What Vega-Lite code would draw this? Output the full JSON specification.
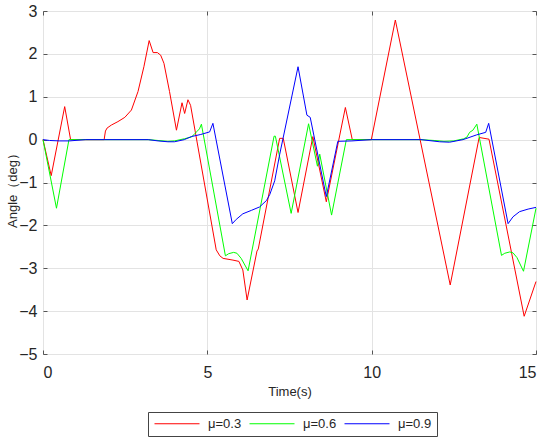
{
  "$schema": "https://vega.github.io/schema/vega-lite/v6.json",
  "width": 493,
  "height": 343,
  "autosize": "none",
  "padding": {"left": 43, "top": 11, "right": 14, "bottom": 85},
  "background": "white",
  "config": {
    "font": "Liberation Sans",
    "view": {"stroke": "#7f7f7f", "strokeWidth": 1},
    "axis": {
      "domain": false,
      "grid": true,
      "gridColor": "#e3e3e3",
      "gridWidth": 1,
      "tickColor": "#555555",
      "tickSize": -4,
      "labelColor": "#262626",
      "labelFontSize": 16,
      "labelFont": "Liberation Sans",
      "titleColor": "#262626",
      "titleFontSize": 13,
      "titleFontWeight": "normal",
      "titleFont": "Liberation Sans"
    }
  },
  "data": {
    "values": [
      {"t": 0, "v": 0, "mu": "μ=0.3"},
      {"t": 0.25, "v": -0.84, "mu": "μ=0.3"},
      {"t": 0.66, "v": 0.77, "mu": "μ=0.3"},
      {"t": 0.84, "v": 0, "mu": "μ=0.3"},
      {"t": 1.86, "v": 0, "mu": "μ=0.3"},
      {"t": 1.9, "v": 0.2, "mu": "μ=0.3"},
      {"t": 1.95, "v": 0.27, "mu": "μ=0.3"},
      {"t": 2.08, "v": 0.34, "mu": "μ=0.3"},
      {"t": 2.28, "v": 0.42, "mu": "μ=0.3"},
      {"t": 2.49, "v": 0.52, "mu": "μ=0.3"},
      {"t": 2.69, "v": 0.69, "mu": "μ=0.3"},
      {"t": 2.89, "v": 1.12, "mu": "μ=0.3"},
      {"t": 3.07, "v": 1.7, "mu": "μ=0.3"},
      {"t": 3.23, "v": 2.31, "mu": "μ=0.3"},
      {"t": 3.35, "v": 2.03, "mu": "μ=0.3"},
      {"t": 3.48, "v": 2.03, "mu": "μ=0.3"},
      {"t": 3.58, "v": 1.97, "mu": "μ=0.3"},
      {"t": 3.68, "v": 1.78, "mu": "μ=0.3"},
      {"t": 3.85, "v": 1.12, "mu": "μ=0.3"},
      {"t": 4.06, "v": 0.22, "mu": "μ=0.3"},
      {"t": 4.23, "v": 0.86, "mu": "μ=0.3"},
      {"t": 4.31, "v": 0.61, "mu": "μ=0.3"},
      {"t": 4.41, "v": 0.93, "mu": "μ=0.3"},
      {"t": 4.49, "v": 0.8, "mu": "μ=0.3"},
      {"t": 5.27, "v": -2.57, "mu": "μ=0.3"},
      {"t": 5.38, "v": -2.71, "mu": "μ=0.3"},
      {"t": 5.48, "v": -2.77, "mu": "μ=0.3"},
      {"t": 5.78, "v": -2.81, "mu": "μ=0.3"},
      {"t": 5.96, "v": -2.84, "mu": "μ=0.3"},
      {"t": 6.08, "v": -3.04, "mu": "μ=0.3"},
      {"t": 6.21, "v": -3.74, "mu": "μ=0.3"},
      {"t": 6.51, "v": -2.6, "mu": "μ=0.3"},
      {"t": 6.55, "v": -2.55, "mu": "μ=0.3"},
      {"t": 7.2, "v": 0.03, "mu": "μ=0.3"},
      {"t": 7.31, "v": 0.03, "mu": "μ=0.3"},
      {"t": 7.76, "v": -1.7, "mu": "μ=0.3"},
      {"t": 8.21, "v": 0.07, "mu": "μ=0.3"},
      {"t": 8.62, "v": -1.45, "mu": "μ=0.3"},
      {"t": 9.2, "v": 0.75, "mu": "μ=0.3"},
      {"t": 9.41, "v": 0, "mu": "μ=0.3"},
      {"t": 9.99, "v": 0, "mu": "μ=0.3"},
      {"t": 10.72, "v": 2.79, "mu": "μ=0.3"},
      {"t": 12.39, "v": -3.39, "mu": "μ=0.3"},
      {"t": 13.27, "v": 0.05, "mu": "μ=0.3"},
      {"t": 13.57, "v": 0.01, "mu": "μ=0.3"},
      {"t": 14.64, "v": -4.12, "mu": "μ=0.3"},
      {"t": 15, "v": -3.31, "mu": "μ=0.3"},

      {"t": 0, "v": 0, "mu": "μ=0.6"},
      {"t": 0.41, "v": -1.6, "mu": "μ=0.6"},
      {"t": 0.79, "v": 0, "mu": "μ=0.6"},
      {"t": 1.5, "v": 0, "mu": "μ=0.6"},
      {"t": 3.2, "v": 0, "mu": "μ=0.6"},
      {"t": 3.5, "v": -0.02, "mu": "μ=0.6"},
      {"t": 3.8, "v": -0.04, "mu": "μ=0.6"},
      {"t": 4.0, "v": -0.03, "mu": "μ=0.6"},
      {"t": 4.3, "v": 0.02, "mu": "μ=0.6"},
      {"t": 4.51, "v": 0.06, "mu": "μ=0.6"},
      {"t": 4.6, "v": 0.12, "mu": "μ=0.6"},
      {"t": 4.67, "v": 0.18, "mu": "μ=0.6"},
      {"t": 4.76, "v": 0.25, "mu": "μ=0.6"},
      {"t": 4.82, "v": 0.36, "mu": "μ=0.6"},
      {"t": 5.55, "v": -2.71, "mu": "μ=0.6"},
      {"t": 5.65, "v": -2.66, "mu": "μ=0.6"},
      {"t": 5.8, "v": -2.63, "mu": "μ=0.6"},
      {"t": 5.9, "v": -2.65, "mu": "μ=0.6"},
      {"t": 6.03, "v": -2.77, "mu": "μ=0.6"},
      {"t": 6.24, "v": -3.06, "mu": "μ=0.6"},
      {"t": 7.03, "v": 0.08, "mu": "μ=0.6"},
      {"t": 7.07, "v": 0.08, "mu": "μ=0.6"},
      {"t": 7.55, "v": -1.72, "mu": "μ=0.6"},
      {"t": 8.08, "v": 0.37, "mu": "μ=0.6"},
      {"t": 8.35, "v": -0.62, "mu": "μ=0.6"},
      {"t": 8.42, "v": -0.34, "mu": "μ=0.6"},
      {"t": 8.78, "v": -1.76, "mu": "μ=0.6"},
      {"t": 9.23, "v": 0, "mu": "μ=0.6"},
      {"t": 11.5, "v": 0, "mu": "μ=0.6"},
      {"t": 11.9, "v": -0.02, "mu": "μ=0.6"},
      {"t": 12.2, "v": -0.04, "mu": "μ=0.6"},
      {"t": 12.5, "v": -0.03, "mu": "μ=0.6"},
      {"t": 12.8, "v": 0.02, "mu": "μ=0.6"},
      {"t": 12.9, "v": 0.06, "mu": "μ=0.6"},
      {"t": 12.98, "v": 0.17, "mu": "μ=0.6"},
      {"t": 13.08, "v": 0.22, "mu": "μ=0.6"},
      {"t": 13.2, "v": 0.36, "mu": "μ=0.6"},
      {"t": 13.95, "v": -2.7, "mu": "μ=0.6"},
      {"t": 14.05, "v": -2.65, "mu": "μ=0.6"},
      {"t": 14.2, "v": -2.62, "mu": "μ=0.6"},
      {"t": 14.3, "v": -2.64, "mu": "μ=0.6"},
      {"t": 14.42, "v": -2.75, "mu": "μ=0.6"},
      {"t": 14.62, "v": -3.07, "mu": "μ=0.6"},
      {"t": 15, "v": -1.6, "mu": "μ=0.6"},

      {"t": 0, "v": 0, "mu": "μ=0.9"},
      {"t": 0.2, "v": -0.02, "mu": "μ=0.9"},
      {"t": 0.5, "v": -0.03, "mu": "μ=0.9"},
      {"t": 0.8, "v": -0.03, "mu": "μ=0.9"},
      {"t": 1.3, "v": 0, "mu": "μ=0.9"},
      {"t": 3.2, "v": 0, "mu": "μ=0.9"},
      {"t": 3.5, "v": -0.03, "mu": "μ=0.9"},
      {"t": 3.8, "v": -0.05, "mu": "μ=0.9"},
      {"t": 4.0, "v": -0.05, "mu": "μ=0.9"},
      {"t": 4.3, "v": 0, "mu": "μ=0.9"},
      {"t": 4.51, "v": 0.07, "mu": "μ=0.9"},
      {"t": 4.8, "v": 0.12, "mu": "μ=0.9"},
      {"t": 5.07, "v": 0.18, "mu": "μ=0.9"},
      {"t": 5.17, "v": 0.38, "mu": "μ=0.9"},
      {"t": 5.76, "v": -1.96, "mu": "μ=0.9"},
      {"t": 5.88, "v": -1.86, "mu": "μ=0.9"},
      {"t": 6.08, "v": -1.73, "mu": "μ=0.9"},
      {"t": 6.34, "v": -1.65, "mu": "μ=0.9"},
      {"t": 6.59, "v": -1.57, "mu": "μ=0.9"},
      {"t": 6.8, "v": -1.42, "mu": "μ=0.9"},
      {"t": 6.9, "v": -1.28, "mu": "μ=0.9"},
      {"t": 7.05, "v": -0.96, "mu": "μ=0.9"},
      {"t": 7.2, "v": -0.35, "mu": "μ=0.9"},
      {"t": 7.76, "v": 1.7, "mu": "μ=0.9"},
      {"t": 8.03, "v": 0.57, "mu": "μ=0.9"},
      {"t": 8.13, "v": 0.52, "mu": "μ=0.9"},
      {"t": 8.62, "v": -1.33, "mu": "μ=0.9"},
      {"t": 8.97, "v": -0.04, "mu": "μ=0.9"},
      {"t": 9.4, "v": -0.03, "mu": "μ=0.9"},
      {"t": 10, "v": 0, "mu": "μ=0.9"},
      {"t": 11.5, "v": 0, "mu": "μ=0.9"},
      {"t": 12.07, "v": -0.05, "mu": "μ=0.9"},
      {"t": 12.37, "v": -0.06, "mu": "μ=0.9"},
      {"t": 12.78, "v": 0, "mu": "μ=0.9"},
      {"t": 13.19, "v": 0.11, "mu": "μ=0.9"},
      {"t": 13.47, "v": 0.17, "mu": "μ=0.9"},
      {"t": 13.56, "v": 0.38, "mu": "μ=0.9"},
      {"t": 14.15, "v": -1.96, "mu": "μ=0.9"},
      {"t": 14.3, "v": -1.8, "mu": "μ=0.9"},
      {"t": 14.5, "v": -1.68, "mu": "μ=0.9"},
      {"t": 14.76, "v": -1.62, "mu": "μ=0.9"},
      {"t": 15, "v": -1.58, "mu": "μ=0.9"}
    ]
  },
  "layer": [
    {
      "mark": {"type": "line", "strokeWidth": 1, "interpolate": "linear"},
      "encoding": {
        "x": {
          "field": "t",
          "type": "quantitative",
          "scale": {"domain": [0, 15], "nice": false, "zero": false},
          "axis": {
            "values": [0, 5, 10, 15],
            "title": "Time(s)",
            "labelPadding": 14,
            "titleBaseline": "middle",
            "titleY": 37
          }
        },
        "y": {
          "field": "v",
          "type": "quantitative",
          "scale": {"domain": [-5, 3], "nice": false, "zero": false},
          "axis": {
            "values": [-5, -4, -3, -2, -1, 0, 1, 2, 3],
            "title": "Angle（deg）",
            "labelPadding": 10,
            "titleBaseline": "middle",
            "titleX": -31,
            "titleY": 176
          }
        },
        "color": {
          "field": "mu",
          "type": "nominal",
          "scale": {
            "domain": ["μ=0.3", "μ=0.6", "μ=0.9"],
            "range": ["#ff0000", "#00ff00", "#0000ff"]
          },
          "legend": {
            "title": null,
            "orient": "none",
            "legendX": 105,
            "legendY": 401,
            "direction": "horizontal",
            "symbolType": "M-1,0L8,0",
            "symbolSize": 100,
            "symbolStrokeWidth": 1,
            "labelFontSize": 13,
            "labelColor": "#262626",
            "labelOffset": 42,
            "columnPadding": 5,
            "padding": 5,
            "strokeColor": "#444444",
            "fillColor": "white"
          }
        }
      }
    },
    {
      "mark": {"type": "point", "opacity": 0},
      "encoding": {
        "x": {
          "field": "t",
          "type": "quantitative",
          "scale": {"domain": [0, 15], "nice": false, "zero": false},
          "axis": {"orient": "top", "values": [0, 5, 10, 15], "labels": false, "grid": false, "title": null}
        },
        "y": {
          "field": "v",
          "type": "quantitative",
          "scale": {"domain": [-5, 3], "nice": false, "zero": false},
          "axis": {"orient": "right", "values": [-5, -4, -3, -2, -1, 0, 1, 2, 3], "labels": false, "grid": false, "title": null}
        }
      }
    }
  ],
  "resolve": {"scale": {"x": "independent", "y": "independent"}}
}
